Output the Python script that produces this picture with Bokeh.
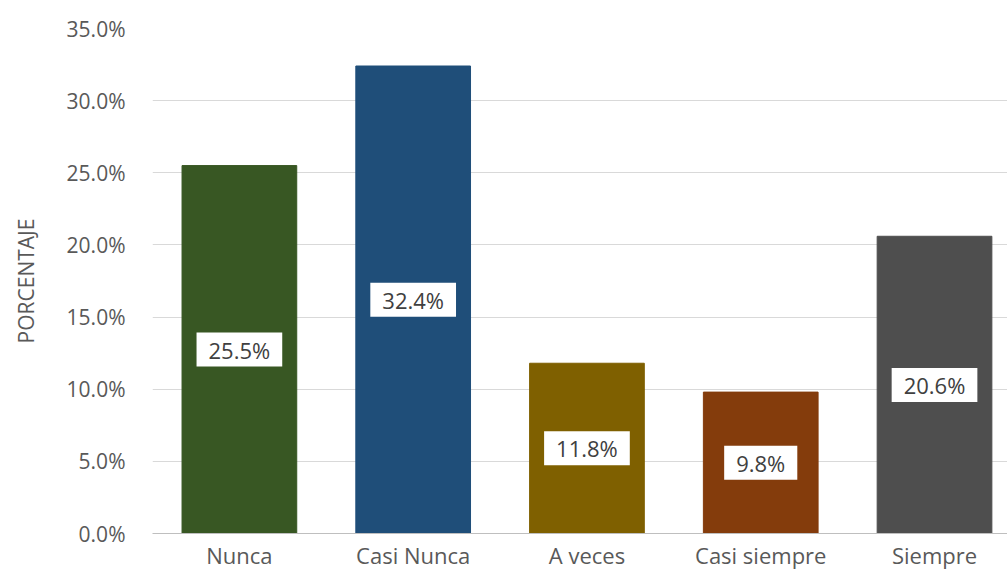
from bokeh.plotting import figure
from bokeh.models import Range1d, FixedTicker, NumeralTickFormatter, ColumnDataSource
from bokeh.core.properties import value
from bokeh.embed import file_html
from bokeh.resources import INLINE

categories = ["Nunca", "Casi Nunca", "A veces", "Casi siempre", "Siempre"]
percentages = [25.5, 32.4, 11.8, 9.8, 20.6]
bar_colors = ["#385723", "#1f4e79", "#7f6000", "#843c0c", "#4e4e4e"]
y_ticks = [0, 5, 10, 15, 20, 25, 30, 35]

FONT = "Open Sans"

xs = list(range(len(categories)))
src = ColumnDataSource(dict(
    x=xs,
    top=percentages,
    mid=[v / 2 for v in percentages],
    color=bar_colors,
    label=[f"{v:.1f}%" for v in percentages],
))

p = figure(width=1007, height=573, output_backend="svg", toolbar_location=None,
           x_range=Range1d(-0.5, 4.42), y_range=Range1d(0, 35),
           min_border_left=152, min_border_right=0, min_border_top=28, min_border_bottom=40)
p.outline_line_color = None
p.background_fill_color = "white"
p.border_fill_color = "white"

p.vbar(x="x", top="top", bottom=0, width=0.66, color="color", line_color="color", source=src)

p.text(x="x", y="mid", text="label", source=src, text_font=value(FONT), text_font_size="22px",
       text_color="#404040", text_align="center", text_baseline="middle",
       background_fill_color="white",
       padding=dict(left=12, right=12, top=2, bottom=2))

# y axis
p.yaxis.ticker = FixedTicker(ticks=y_ticks)
p.yaxis.formatter = NumeralTickFormatter(format="0.0")
p.yaxis.major_label_overrides = {t: f"{t:.1f}%" for t in y_ticks}
p.yaxis.axis_line_color = None
p.yaxis.major_tick_line_color = None
p.yaxis.minor_tick_line_color = None
p.yaxis.major_label_text_font = FONT
p.yaxis.major_label_text_font_size = "21px"
p.yaxis.major_label_text_color = "#595959"
p.yaxis.major_label_standoff = 21
p.yaxis.axis_label = "PORCENTAJE"
p.yaxis.axis_label_text_font = FONT
p.yaxis.axis_label_text_font_size = "21px"
p.yaxis.axis_label_text_font_style = "normal"
p.yaxis.axis_label_text_color = "#595959"
p.yaxis.axis_label_standoff = 24

# x axis
p.xaxis.ticker = FixedTicker(ticks=xs)
p.xaxis.major_label_overrides = {i: c for i, c in zip(xs, categories)}
p.xaxis.axis_line_color = "#bfbfbf"
p.xaxis.major_tick_line_color = None
p.xaxis.minor_tick_line_color = None
p.xaxis.major_label_text_font = FONT
p.xaxis.major_label_text_font_size = "22px"
p.xaxis.major_label_text_color = "#595959"
p.xaxis.major_label_standoff = 0

p.xgrid.grid_line_color = None
p.ygrid.grid_line_color = "#d9d9d9"
p.ygrid.ticker = FixedTicker(ticks=y_ticks)

open("out.html", "w").write(file_html(p, INLINE))
